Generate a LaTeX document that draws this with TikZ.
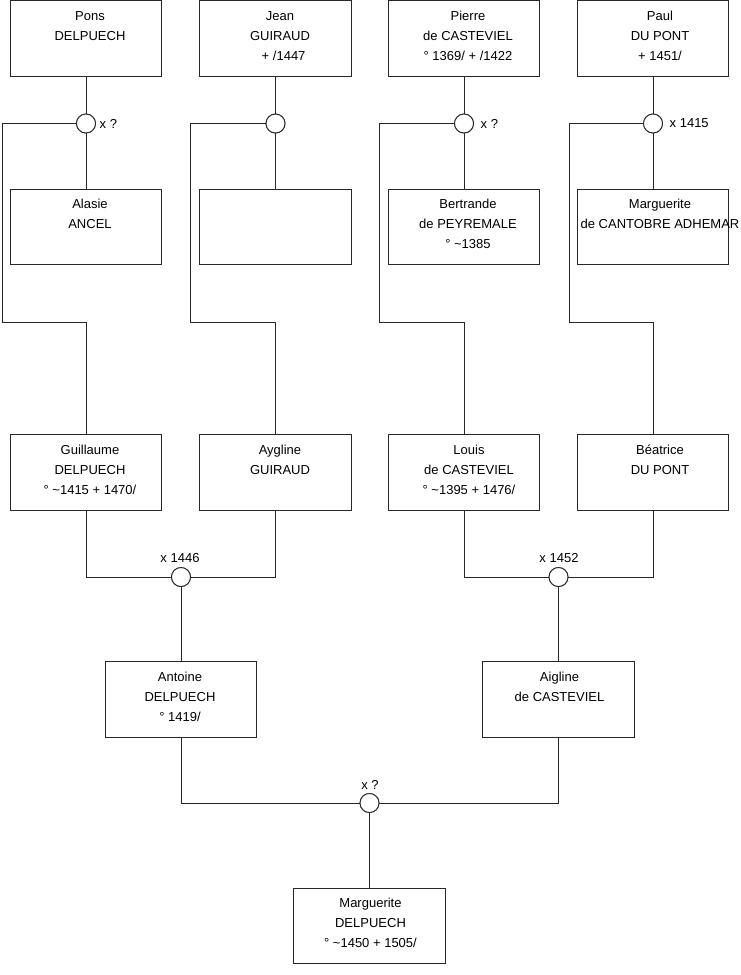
\documentclass[tikz,border=0pt]{standalone}
\usepackage{fontspec}
\setmainfont{Liberation Sans}
\usetikzlibrary{calc}
\definecolor{lc}{RGB}{40,40,40}
\begin{document}
\begin{tikzpicture}[x=1pt,y=-1pt,
  box/.style={draw=lc, line width=0.9pt, minimum width=151.5pt, minimum height=75.5pt, inner sep=0pt, outer sep=0pt},
  txt/.style={anchor=north, align=center, inner sep=0pt, font=\fontsize{13}{20}\selectfont},
  mar/.style={draw=lc, line width=0.9pt, circle, minimum size=19pt, inner sep=0pt, outer sep=0pt, fill=white},
  lbl/.style={inner sep=0pt, font=\fontsize{13}{20}\selectfont},
  con/.style={draw=lc, line width=0.9pt}]
\useasboundingbox (0,0) rectangle (740,975);
% boxes
\node[box] (a1) at (86,38.25) {};
\node[box] (a2) at (275.5,38.25) {};
\node[box] (a3) at (464,38.25) {};
\node[box] (a4) at (653,38.25) {};
\node[box] (b1) at (86,227) {};
\node[box] (b2) at (275.5,227) {};
\node[box] (b3) at (464,227) {};
\node[box] (b4) at (653,227) {};
\node[box] (c1) at (86,472.5) {};
\node[box] (c2) at (275.5,472.5) {};
\node[box] (c3) at (464,472.5) {};
\node[box] (c4) at (653,472.5) {};
\node[box] (d1) at (181,699.5) {};
\node[box] (d2) at (558.5,699.5) {};
\node[box] (e1) at (369.5,926) {};
% texts
\node[txt] (ta1) at ($(a1.north)+(4,5.5)$) {\strut Pons\\DELPUECH};
\node[txt] (ta2) at ($(a2.north)+(4.5,5.5)$) {\strut Jean\\GUIRAUD\\\ \ + /1447};
\node[txt] (ta3) at ($(a3.north)+(4,5.5)$) {\strut Pierre\\de CASTEVIEL\\° 1369/ + /1422};
\node[txt] (ta4) at ($(a4.north)+(7,5.5)$) {\strut Paul\\DU PONT\\+ 1451/};
\node[txt] (tb1) at ($(b1.north)+(4,5.5)$) {\strut Alasie\\ANCEL};
\node[txt] (tb3) at ($(b3.north)+(4,5.5)$) {\strut Bertrande\\de PEYREMALE\\° \textasciitilde1385};
\node[txt] (tb4) at ($(b4.north)+(7,5.5)$) {\strut Marguerite\\de CANTOBRE ADHEMAR};
\node[txt] (tc1) at ($(c1.north)+(4,5.5)$) {\strut Guillaume\\DELPUECH\\° \textasciitilde1415 + 1470/};
\node[txt] (tc2) at ($(c2.north)+(4.5,5.5)$) {\strut Aygline\\GUIRAUD};
\node[txt] (tc3) at ($(c3.north)+(5,5.5)$) {\strut Louis\\de CASTEVIEL\\° \textasciitilde1395 + 1476/};
\node[txt] (tc4) at ($(c4.north)+(7,5.5)$) {\strut Béatrice\\DU PONT};
\node[txt] (td1) at ($(d1.north)+(-1,5.5)$) {\strut Antoine\\DELPUECH\\° 1419/};
\node[txt] (td2) at ($(d2.north)+(1,5.5)$) {\strut Aigline\\de CASTEVIEL};
\node[txt] (te1) at ($(e1.north)+(1,5.5)$) {\strut Marguerite\\DELPUECH\\° \textasciitilde1450 + 1505/};
% marriage circles
\node[mar] (m1) at (86,123.5) {};
\node[mar] (m2) at (275.5,123.5) {};
\node[mar] (m3) at (464,123.5) {};
\node[mar] (m4) at (653,123.5) {};
\node[mar] (n1) at (181,577) {};
\node[mar] (n2) at (558.5,577) {};
\node[mar] (o1) at (369.5,803) {};
% corner coordinates
\coordinate (k1) at (2,322);
\coordinate (k2) at (190.5,322);
\coordinate (k3) at (379,322);
\coordinate (k4) at (569,322);
% connectors top
\foreach \i in {1,2,3,4}{
  \draw[con] (a\i) -- (m\i);
  \draw[con] (m\i) -- (b\i);
  \draw[con] (m\i.west) -| (k\i) -| (c\i.north);
}
\draw[con] (c1.south) |- (n1.west);
\draw[con] (c2.south) |- (n1.east);
\draw[con] (n1) -- (d1);
\draw[con] (c3.south) |- (n2.west);
\draw[con] (c4.south) |- (n2.east);
\draw[con] (n2) -- (d2);
\draw[con] (d1.south) |- (o1.west);
\draw[con] (d2.south) |- (o1.east);
\draw[con] (o1) -- (e1);
% redraw circles on top
\foreach \c in {m1,m2,m3,m4,n1,n2,o1}{\draw[lc, line width=0.9pt, fill=white] (\c) circle (9.5pt);}
% labels
\node[lbl, anchor=west] (l1) at ($(m1.east)+(4,0)$) {x ?};
\node[lbl, anchor=west] (l3) at ($(m3.east)+(7,0)$) {x ?};
\node[lbl, anchor=west] (l4) at ($(m4.east)+(7,0)$) {x 1415};
\node[lbl] (l5) at (180,558) {x 1446};
\node[lbl] (l6) at (559,558) {x 1452};
\node[lbl] (l7) at (370,785) {x ?};
\end{tikzpicture}
\end{document}
